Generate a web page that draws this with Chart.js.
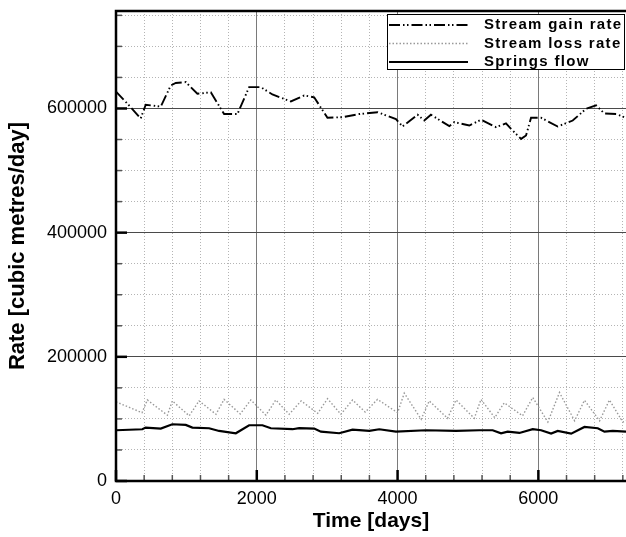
<!DOCTYPE html>
<html>
<head>
<meta charset="utf-8">
<script src="https://cdn.jsdelivr.net/npm/chart.js@4/dist/chart.umd.min.js"></script>
<style>
html,body{margin:0;padding:0;background:#fff;}
#wrap{width:626px;height:537px;position:relative;}
canvas{display:block;}
</style>
</head>
<body>
<div id="wrap"><canvas id="c" width="626" height="537"></canvas></div>
<script>
// ---- data ----
const seriesLabels = ['Stream gain rate', 'Stream loss rate', 'Springs flow'];

const gainDays = [0, 185, 351, 422, 636, 778, 849, 991, 1156, 1347, 1536, 1725, 1891, 2057, 2222, 2484, 2673, 2815, 3004, 3218, 3455, 3716, 3977, 4071, 4284, 4379, 4474, 4735, 4806, 5019, 5185, 5398, 5540, 5612, 5754, 5825, 5896, 6038, 6275, 6488, 6678, 6820, 6938, 7105, 7245];
const gainValues = [627000, 605000, 584000, 606000, 603000, 637000, 641000, 642500, 623700, 626000, 591000, 591000, 634400, 634400, 622600, 611300, 621000, 618000, 585000, 586000, 591000, 594000, 583000, 571000, 590000, 580600, 590000, 571500, 578000, 572600, 581800, 570000, 576000, 567000, 551000, 556500, 585000, 585000, 571000, 580600, 599500, 605000, 592000, 591000, 585000];

const lossDays = [0, 370, 445, 730, 800, 1040, 1180, 1420, 1535, 1765, 1915, 2130, 2270, 2460, 2630, 2865, 3005, 3195, 3360, 3540, 3715, 4000, 4095, 4335, 4450, 4710, 4830, 5090, 5185, 5380, 5515, 5775, 5920, 6135, 6300, 6515, 6655, 6870, 7010, 7200, 7245];
const lossValues = [127500, 110000, 130500, 106000, 129000, 105000, 129000, 107500, 131500, 108000, 130500, 106000, 130500, 107500, 129000, 109000, 132500, 107500, 130500, 111000, 131500, 110000, 141500, 99500, 129000, 101000, 130500, 101000, 131500, 102000, 126000, 105000, 134500, 95000, 142500, 97000, 130000, 97000, 130500, 95000, 97000];

const springDays = [0, 374, 422, 636, 800, 991, 1085, 1322, 1465, 1702, 1891, 2080, 2200, 2507, 2602, 2816, 2911, 3171, 3360, 3598, 3740, 3977, 4404, 4830, 5162, 5351, 5470, 5564, 5731, 5920, 6039, 6181, 6275, 6466, 6655, 6844, 6939, 7057, 7245];
const springValues = [81700, 83300, 86000, 84400, 91400, 90300, 86000, 85000, 80600, 76900, 89800, 89800, 85000, 83400, 85000, 84400, 79500, 76900, 82700, 80600, 83300, 79500, 81700, 80600, 81700, 81700, 76900, 79500, 77400, 83400, 81700, 76300, 80600, 76300, 87100, 85000, 79500, 80600, 79500];

const xTickLabels = [0, 2000, 4000, 6000];
const yTickLabels = [0, 200000, 400000, 600000];
const xMin = 0, xMax = 7245, xStep = 400;
const yMin = 0, yMax = 757000, yStep = 50000;

// ---- build ----
const pairs = (xs, ys) => xs.map((x, i) => ({x: x, y: ys[i]}));
const FONT = '"Liberation Sans", Arial, Helvetica, sans-serif';
Chart.defaults.font.family = FONT;
Chart.defaults.color = '#000';

const isMajorX = v => xTickLabels.some(t => Math.abs(t - v) < 1e-6);
const isMajorY = v => yTickLabels.some(t => Math.abs(t - v) < 1e-6);
const stepTicks = (lo, hi, step) => {
  const out = [];
  for (let k = 0; lo + k * step <= hi; k++) out.push({value: lo + k * step});
  return out;
};

const framePlugin = {
  id: 'frame',
  afterDatasetsDraw(chart) {
    const {ctx, chartArea: a, scales: {x, y}} = chart;
    ctx.save();
    // inward tick marks
    x.ticks.forEach(t => {
      const px = x.getPixelForValue(t.value);
      const maj = isMajorX(t.value);
      ctx.beginPath();
      ctx.lineWidth = maj ? 2.5 : 1.5;
      ctx.strokeStyle = maj ? '#000' : '#555';
      ctx.moveTo(px, a.bottom);
      ctx.lineTo(px, a.bottom - (maj ? 11 : 6));
      ctx.stroke();
    });
    y.ticks.forEach(t => {
      const py = y.getPixelForValue(t.value);
      const maj = isMajorY(t.value);
      ctx.beginPath();
      ctx.lineWidth = maj ? 2.5 : 1.5;
      ctx.strokeStyle = maj ? '#000' : '#555';
      ctx.moveTo(a.left, py);
      ctx.lineTo(a.left + (maj ? 11 : 6), py);
      ctx.stroke();
    });
    // frame
    ctx.strokeStyle = '#000';
    ctx.lineWidth = 2.5;
    ctx.beginPath();
    ctx.moveTo(a.right, a.top);
    ctx.lineTo(a.left, a.top);
    ctx.lineTo(a.left, a.bottom);
    ctx.lineTo(a.right, a.bottom);
    ctx.stroke();

    // legend box
    const bx = 387.5, by = 14.5, bw = 237, bh = 55;
    ctx.fillStyle = '#fff';
    ctx.fillRect(bx, by, bw, bh);
    ctx.lineWidth = 1;
    ctx.strokeStyle = '#000';
    ctx.strokeRect(bx, by, bw, bh);
    const rows = [25, 43.5, 62];
    chart.data.datasets.forEach((ds, i) => {
      const ry = rows[i];
      ctx.beginPath();
      ctx.setLineDash(ds.borderDash || []);
      ctx.lineWidth = ds.borderWidth;
      ctx.strokeStyle = ds.borderColor;
      ctx.moveTo(389, ry);
      ctx.lineTo(468, ry);
      ctx.stroke();
      ctx.setLineDash([]);
      ctx.fillStyle = '#000';
      ctx.font = 'bold 15px ' + FONT;
      try { ctx.letterSpacing = '1.3px'; } catch (e) {}
      ctx.textBaseline = 'middle';
      ctx.textAlign = 'left';
      ctx.fillText(ds.label, 484, ry);
      try { ctx.letterSpacing = '0px'; } catch (e) {}
    });
    ctx.restore();
  }
};

new Chart(document.getElementById('c'), {
  type: 'line',
  data: {
    datasets: [
      {label: seriesLabels[0], data: pairs(gainDays, gainValues), borderColor: '#000', borderWidth: 1.9,
       borderDash: [11, 3, 1.5, 2.5, 1.5, 3], pointRadius: 0, fill: false, tension: 0},
      {label: seriesLabels[1], data: pairs(lossDays, lossValues), borderColor: '#999999', borderWidth: 1.4,
       borderDash: [1.5, 2], pointRadius: 0, fill: false, tension: 0},
      {label: seriesLabels[2], data: pairs(springDays, springValues), borderColor: '#000', borderWidth: 2.2,
       borderDash: [], pointRadius: 0, fill: false, tension: 0}
    ]
  },
  options: {
    responsive: false,
    animation: false,
    devicePixelRatio: 1,
    layout: {padding: {top: 11, right: 0, bottom: 0, left: 0}},
    plugins: {legend: {display: false}, tooltip: {enabled: false}},
    scales: {
      x: {
        type: 'linear', min: xMin, max: xMax,
        afterFit: s => { s.height = 56; s.paddingLeft = 0; s.paddingRight = 0; },
        afterBuildTicks: s => { s.ticks = stepTicks(xMin, xMax, xStep); },
        ticks: {
          autoSkip: false, maxRotation: 0, padding: 7,
          color: '#000', font: {size: 18},
          callback: v => isMajorX(v) ? String(v) : ''
        },
        grid: {
          drawTicks: false, lineWidth: 1,
          color: c => (c.tick && isMajorX(c.tick.value)) ? '#7a7a7a' : '#b4b4b4'
        },
        border: {display: false, dash: c => (c.tick && !isMajorX(c.tick.value)) ? [1, 2] : []},
        title: {display: true, text: 'Time [days]', color: '#000',
                font: {size: 21, weight: 'bold'}, padding: {top: 0, bottom: 3}}
      },
      y: {
        type: 'linear', min: yMin, max: yMax,
        afterFit: s => { s.width = 116; s.paddingTop = 0; s.paddingBottom = 0; },
        afterBuildTicks: s => { s.ticks = stepTicks(yMin, yMax, yStep); },
        ticks: {
          autoSkip: false, padding: 9,
          color: '#000', font: {size: 18},
          callback: v => isMajorY(v) ? String(v) : ''
        },
        grid: {
          drawTicks: false, lineWidth: 1,
          color: c => (c.tick && isMajorY(c.tick.value)) ? '#4a4a4a' : '#b4b4b4'
        },
        border: {display: false, dash: c => (c.tick && !isMajorY(c.tick.value)) ? [1, 2] : []},
        title: {display: true, text: 'Rate [cubic metres/day]', color: '#000',
                font: {size: 22, weight: 'bold'}, padding: {top: 5, bottom: 0}}
      }
    }
  },
  plugins: [framePlugin]
});
</script>
</body>
</html>
